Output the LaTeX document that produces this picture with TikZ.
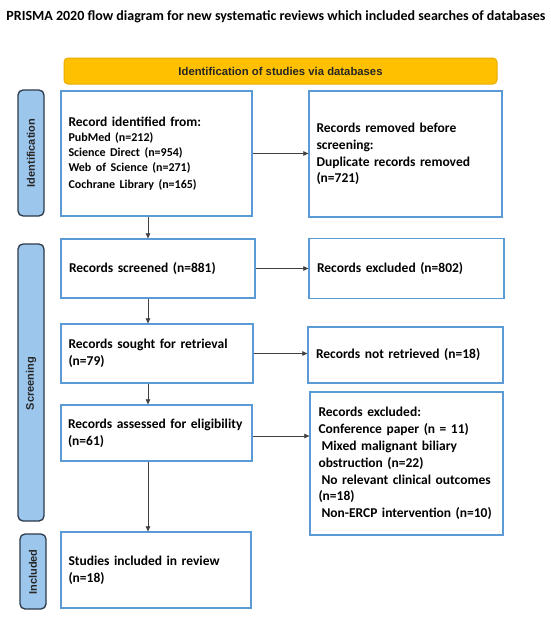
\documentclass[tikz,border=0pt]{standalone}
\usepackage{fontspec}
\setmainfont{Carlito}
\newfontfamily\arialf{Liberation Sans}
\usetikzlibrary{arrows.meta,calc}
\definecolor{boxblue}{HTML}{5B9BD5}
\definecolor{barfill}{HTML}{9CC6EC}
\definecolor{bardraw}{HTML}{2B3A4A}
\definecolor{banfill}{HTML}{FFC000}
\definecolor{bandraw}{HTML}{E6AC00}
\definecolor{arrgray}{HTML}{404040}
\tikzset{
  recbox/.style={draw=boxblue, line width=1.3pt, fill=white, inner sep=0pt,
    font=\fontsize{13.5}{16.8}\selectfont\bfseries, align=left},
  sidebar/.style={draw=bardraw, fill=barfill, line width=1.3pt, rounded corners=5pt},
  sidelabel/.style={rotate=90, font=\arialf\fontsize{11}{13}\selectfont\bfseries, text=black!85},
  arr/.style={draw=arrgray, line width=0.7pt, -{Triangle[length=5pt,width=4.5pt]}}
}
\begin{document}
\begin{tikzpicture}[x=1pt,y=-1pt]
\useasboundingbox (0,0) rectangle (550,621);
\fill[white] (0,0) rectangle (550,621);
% title
\node[font=\fontsize{14}{16}\selectfont\bfseries, anchor=center] (title) at (276,17)
  {PRISMA 2020 flow diagram for new systematic reviews which included searches of databases};
% banner
\node[draw=bandraw, fill=banfill, line width=1pt, rounded corners=4pt,
  minimum width=433pt, minimum height=26pt, inner sep=0pt,
  font=\arialf\fontsize{11.3}{13}\selectfont\bfseries, text=black!85] (banner) at (280.5,71)
  {Identification of studies via databases};
% side bars
\draw[sidebar] (18,90) rectangle (44,216);
\node[sidelabel] (lid) at (31,153) {Identification};
\draw[sidebar] (18,244) rectangle (44,521);
\node[sidelabel] (lsc) at (31,383.5) {Screening};
\draw[sidebar] (20,534) rectangle (46,609);
\node[sidelabel] (lin) at (33,572) {Included};
% boxes
\node[recbox, minimum width=191pt, minimum height=125pt, text width=176pt] (b1) at (156.5,153.5)
  {\fontsize{13.5}{15.25}\selectfont Record identified from:\\
   {\fontsize{12}{15.25}\selectfont PubMed (n=212)\\ Science Direct (n=954)\\ Web of Science (n=271)\\ Cochrane Library (n=165)}};
\node[recbox, minimum width=193pt, minimum height=126pt, text width=178pt] (b2) at (405.5,154)
  {Records removed before\\ screening:\\ Duplicate records removed\\ (n=721)};
\node[recbox, minimum width=194pt, minimum height=59pt, text width=178pt] (b3) at (158,268.5)
  {Records screened (n=881)};
\node[recbox, minimum width=195pt, minimum height=60pt, text width=179pt] (b4) at (406.5,268.5)
  {Records excluded (n=802)};
\node[recbox, minimum width=192pt, minimum height=59pt, text width=177pt] (b5) at (157,353.5)
  {Records sought for retrieval\\ (n=79)};
\node[recbox, minimum width=195pt, minimum height=56pt, text width=179pt] (b6) at (405.5,355)
  {Records not retrieved (n=18)};
\node[recbox, minimum width=191pt, minimum height=56pt, text width=177pt] (b7) at (156.5,433)
  {Records assessed for eligibility\\ (n=61)};
\node[recbox, minimum width=193pt, minimum height=143pt, text width=176pt] (b8) at (406.5,463.5)
  {Records excluded:\\ Conference paper (n = 11)\\ \hspace{3pt}Mixed malignant biliary\\ obstruction (n=22)\\ \hspace{3pt}No relevant clinical outcomes\\ (n=18)\\ \hspace{3pt}Non-ERCP intervention (n=10)};
\node[recbox, minimum width=190pt, minimum height=76pt, text width=175pt] (b9) at (156,570)
  {Studies included in review\\ (n=18)};
% connectors
\coordinate (ax) at (148,0);
\draw[arr] (b1.east) -- (b1.east -| b2.west);
\draw[arr] (b3.east) -- (b3.east -| b4.west);
\draw[arr] (b5.east) -- (b5.east -| b6.west);
\draw[arr] ([yshift=-3pt]b7.east) -- ([yshift=-3pt]b7.east -| b8.west);
\draw[arr] (b1.south -| ax) -- (b3.north -| ax);
\draw[arr] (b3.south -| ax) -- (b5.north -| ax);
\draw[arr] (b5.south -| ax) -- (b7.north -| ax);
\draw[arr] (b7.south -| ax) -- (b9.north -| ax);
\end{tikzpicture}
\end{document}
